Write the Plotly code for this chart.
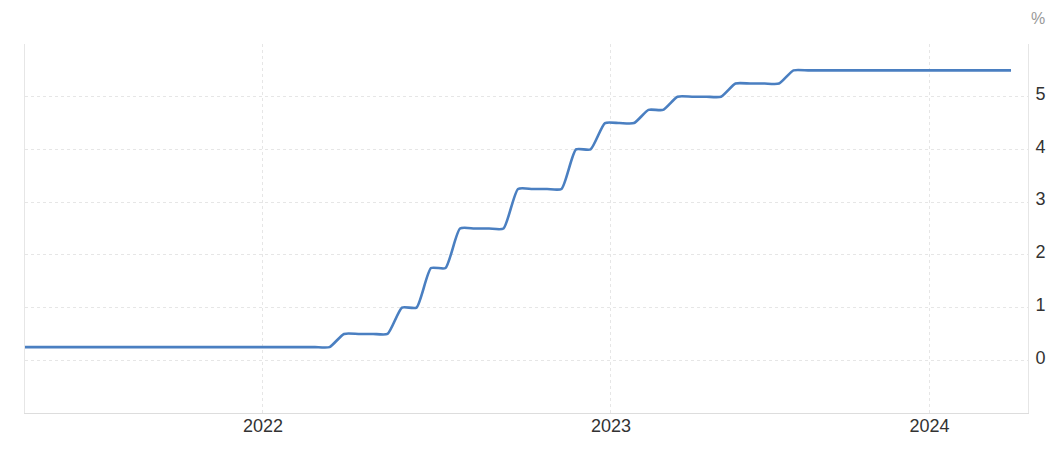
import plotly.graph_objects as go

# Ordinal observations (equally spaced, as on the source's ordinal time axis)
obs = list(range(69))
rate = [
    0.25, 0.25, 0.25, 0.25, 0.25, 0.25, 0.25, 0.25, 0.25, 0.25, 0.25,
    0.25, 0.25, 0.25, 0.25, 0.25, 0.25, 0.25, 0.25, 0.25, 0.25, 0.25,
    0.5, 0.5, 0.5, 0.5,
    1.0, 1.0,
    1.75, 1.75,
    2.5, 2.5, 2.5, 2.5,
    3.25, 3.25, 3.25, 3.25,
    4.0, 4.0,
    4.5, 4.5, 4.5,
    4.75, 4.75,
    5.0, 5.0, 5.0, 5.0,
    5.25, 5.25, 5.25, 5.25,
    5.5, 5.5, 5.5, 5.5, 5.5, 5.5, 5.5, 5.5, 5.5, 5.5, 5.5, 5.5, 5.5, 5.5, 5.5, 5.5,
]
year_labels = ["2022", "2023", "2024"]
year_pos = [16.41, 40.41, 62.38]
y_ticks = [-1, 0, 1, 2, 3, 4, 5, 6]
y_text = ["", "0", "1", "2", "3", "4", "5", ""]

FONT = "Liberation Sans, Arial, sans-serif"
GRID = "#e6e6e6"

fig = go.Figure()
fig.add_trace(go.Scatter(
    x=obs, y=rate, mode="lines",
    line=dict(color="#4a7fc1", width=2.6, shape="spline", smoothing=0.55),
    hoverinfo="skip", showlegend=False,
))

fig.update_layout(
    width=1059, height=449,
    margin=dict(l=25, r=31, t=44, b=36, autoexpand=False),
    paper_bgcolor="white", plot_bgcolor="white",
    font=dict(family=FONT, color="#333333"),
    xaxis=dict(
        range=[0, 69.17], automargin=False,
        tickmode="array", tickvals=year_pos, ticktext=year_labels,
        showgrid=True, gridcolor=GRID, griddash="dot", gridwidth=1,
        showline=True, linecolor="#dddddd", linewidth=1,
        ticks="", tickfont=dict(size=18, color="#333333"),
        ticklabelstandoff=-4,
        zeroline=False, fixedrange=True,
    ),
    yaxis=dict(
        range=[-1, 6], side="right", automargin=False,
        tickmode="array", tickvals=y_ticks, ticktext=y_text,
        showgrid=True, gridcolor=GRID, griddash="dot", gridwidth=1,
        showline=True, mirror=True, linecolor=GRID, linewidth=1,
        ticks="", ticklabelstandoff=3, ticklabelshift=-3,
        tickfont=dict(size=18, color="#333333"),
        zeroline=False, fixedrange=True,
    ),
    annotations=[dict(
        text="%", xref="paper", yref="paper", x=1.0, y=1.0,
        xanchor="left", yanchor="middle", xshift=1, yshift=26,
        showarrow=False, font=dict(size=16, color="#999999", family=FONT),
    )],
)

fig.write_html(
    "out.html",
    config={"displayModeBar": False},
    post_script="document.body.style.margin='0';document.body.style.overflow='hidden';",
)
